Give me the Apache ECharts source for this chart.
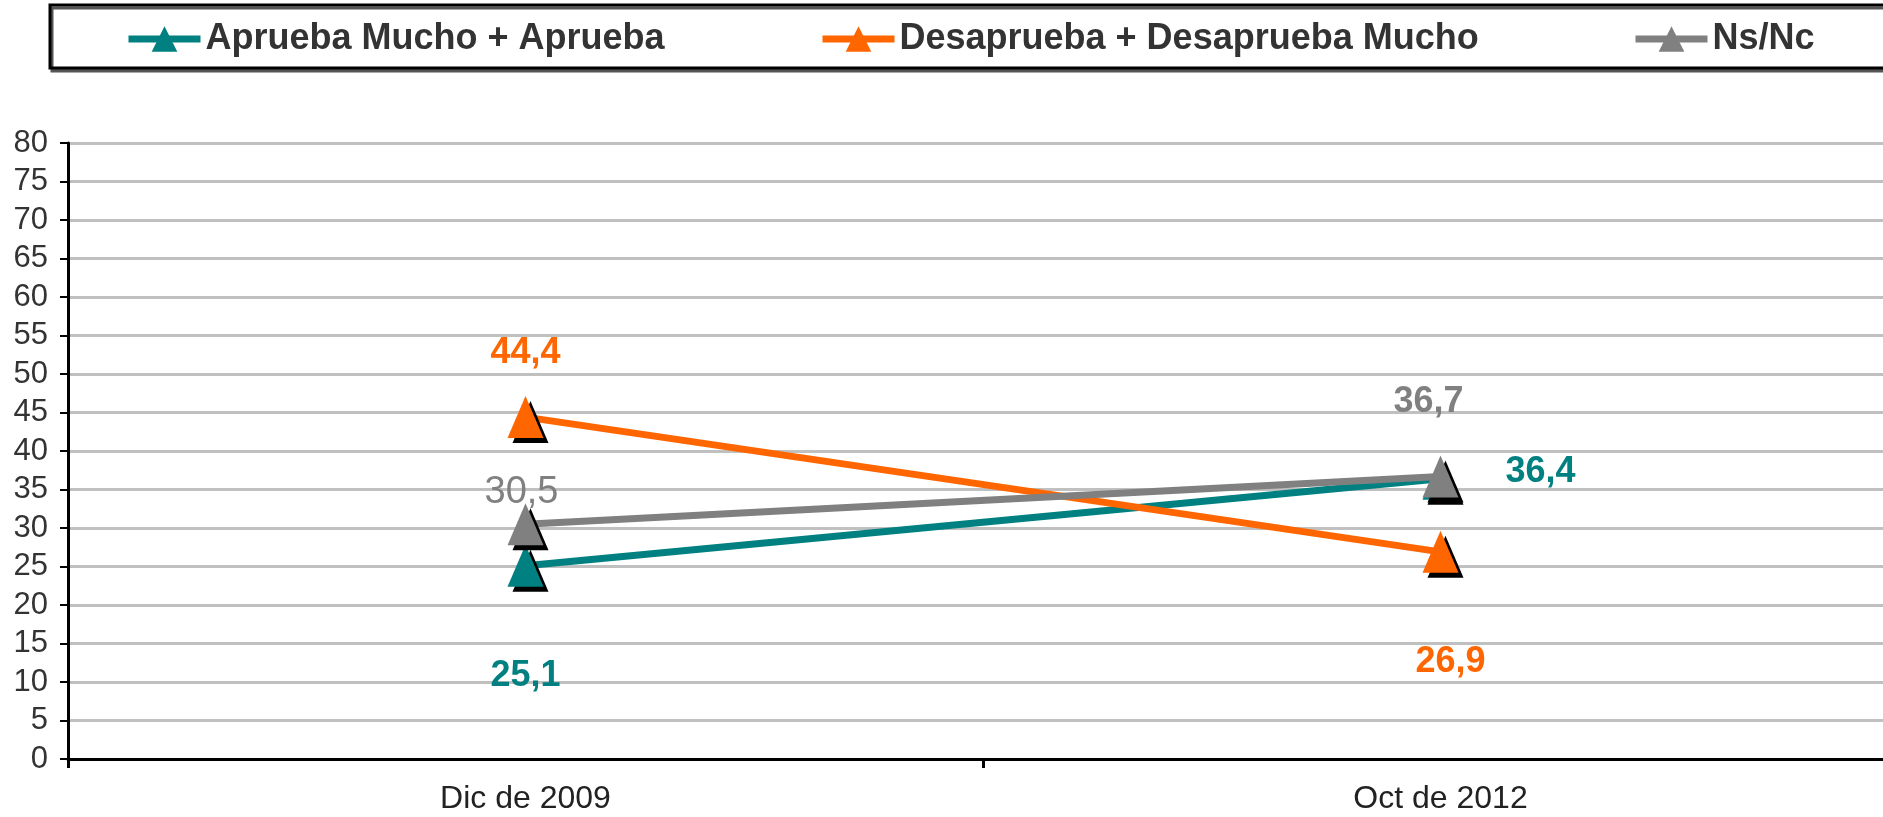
<!DOCTYPE html>
<html>
<head>
<meta charset="utf-8">
<script src="https://cdn.jsdelivr.net/npm/echarts@6/dist/echarts.min.js"></script>
<style>
html, body { margin: 0; padding: 0; background: #fff; overflow: hidden; }
#chart { width: 1898px; height: 817px; }
</style>
</head>
<body>
<div id="chart"></div>
<script>
// datos
var categorias = ['Dic de 2009', 'Oct de 2012'];
var aprueba = [25.1, 36.4];
var desaprueba = [44.4, 26.9];
var nsnc = [30.5, 36.7];
var nombres = ['Aprueba Mucho + Aprueba', 'Desaprueba + Desaprueba Mucho', 'Ns/Nc'];

var chart = echarts.init(document.getElementById('chart'));

function fmt(v) {
    return String(v).replace('.', ',');
}

// offsets de las etiquetas respecto al punto
var offAprueba = [[0, 110], [100, -7]];
var offDesaprueba = [[0, -64], [10, 110]];
var offNsnc = [[-4, -32], [-12, -74]];
var pesoNsnc = ['normal', 'bold'];

function serie(nombre, datos, color, offs, pesos) {
    return {
        name: nombre,
        type: 'line',
        data: datos.map(function (v, i) {
            var peso = pesos ? pesos[i] : 'bold';
            return {
                value: v,
                label: {
                    offset: offs[i],
                    fontWeight: peso,
                    fontSize: peso === 'bold' ? 36 : 38
                }
            };
        }),
        symbol: 'triangle',
        symbolSize: [36, 42],
        lineStyle: { color: color, width: 7 },
        itemStyle: {
            color: color,
            shadowColor: '#000',
            shadowBlur: 0,
            shadowOffsetX: 5,
            shadowOffsetY: 5
        },
        label: {
            show: true,
            position: 'inside',
            color: color,
            fontFamily: 'Liberation Sans',
            fontWeight: 'bold',
            fontSize: 36,
            formatter: function (p) { return fmt(p.value); }
        },
        emphasis: { disabled: true },
        animation: false
    };
}

function leyenda(nombre, left) {
    return {
        data: [nombre],
        left: left,
        top: 16,
        itemWidth: 72,
        itemHeight: 32,
        itemGap: 4,
        lineStyle: { width: 7 },
        textStyle: {
            fontFamily: 'Liberation Sans',
            fontWeight: 'bold',
            fontSize: 36,
            color: '#333'
        }
    };
}

var option = {
    backgroundColor: '#fff',
    animation: false,
    graphic: [{
        type: 'rect',
        shape: { x: 50, y: 5, width: 1900, height: 63 },
        style: {
            fill: '#fff',
            stroke: '#000',
            lineWidth: 3,
            shadowColor: '#555',
            shadowOffsetX: 2,
            shadowOffsetY: 3
        },
        z: -1
    }],
    legend: [
        leyenda(nombres[0], 120),
        leyenda(nombres[1], 814),
        leyenda(nombres[2], 1627)
    ],
    grid: { left: 68, top: 143, bottom: 58, right: 0 },
    xAxis: {
        type: 'category',
        data: categorias,
        boundaryGap: true,
        axisLine: { lineStyle: { color: '#000', width: 3 } },
        axisTick: { show: true, length: 9, lineStyle: { color: '#000', width: 3 } },
        axisLabel: {
            margin: 24,
            color: '#222',
            fontFamily: 'Liberation Sans',
            fontSize: 32
        }
    },
    yAxis: {
        type: 'value',
        min: 0,
        max: 80,
        interval: 5,
        axisLine: { show: true, lineStyle: { color: '#000', width: 3 } },
        axisTick: { show: true, length: 8, lineStyle: { color: '#000', width: 2 } },
        splitLine: { lineStyle: { color: '#c0c0c0', width: 3 } },
        axisLabel: {
            margin: 20,
            color: '#333',
            fontFamily: 'Liberation Sans',
            fontSize: 31
        }
    },
    series: [
        serie(nombres[0], aprueba, '#008080', offAprueba),
        serie(nombres[1], desaprueba, '#ff6600', offDesaprueba),
        serie(nombres[2], nsnc, '#808080', offNsnc, pesoNsnc)
    ]
};

chart.setOption(option);
</script>
</body>
</html>
